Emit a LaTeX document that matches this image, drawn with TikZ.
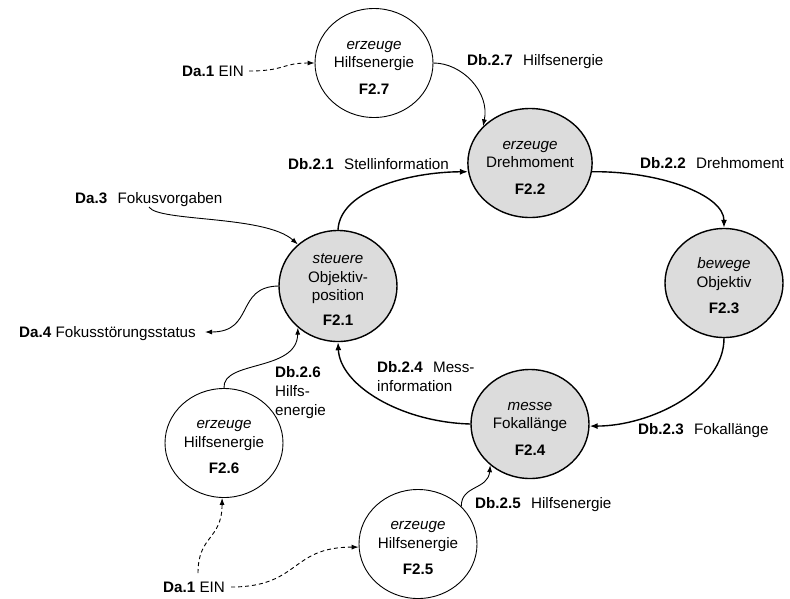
\documentclass[tikz,border=0pt]{standalone}
\usepackage{fontspec}
\setmainfont{Liberation Sans}
\usetikzlibrary{shapes.geometric,arrows.meta}
\definecolor{procfill}{RGB}{220,220,220}
% fixed-height first line so every process text sits alike in its ellipse
\newcommand{\topline}{\rule{0pt}{17pt}}
\begin{document}
\begin{tikzpicture}[x=1pt,y=-1pt,
  every node/.style={font=\fontsize{15.2}{18.5}\selectfont, inner sep=0pt},
  proc/.style={ellipse, draw, minimum width=118pt, minimum height=109pt,
    align=center, inner sep=0pt},
  mainproc/.style={proc, fill=procfill, line width=1.4pt},
  auxproc/.style={proc, fill=white, line width=0.9pt},
  lbl/.style={anchor=base west},
  tip/.style={-{Latex[length=7pt,width=5pt]}},
  flow/.style={tip, line width=0.9pt},
  mainflow/.style={-{Latex[length=8pt,width=6pt]}, line width=1.4pt},
  dashflow/.style={tip, line width=0.9pt, dash pattern=on 4pt off 3pt}]
\useasboundingbox (0,0) rectangle (790,598);

% processes
\node[auxproc]  (F27) at (374,63)  {\topline\itshape erzeuge\\Hilfsenergie\\[8pt]\textbf{F2.7}};
\node[mainproc] (F22) at (530,163) {\topline\itshape erzeuge\\Drehmoment\\[8pt]\textbf{F2.2}};
\node[mainproc] (F23) at (724,283) {\topline\itshape bewege\\Objektiv\\[8pt]\textbf{F2.3}};
\node[mainproc] (F21) at (338,286) {\topline\itshape steuere\\Objektiv-\\position\\[6pt]\textbf{F2.1}};
\node[mainproc] (F24) at (530,424) {\topline\itshape messe\\Fokallänge\\[8pt]\textbf{F2.4}};
\node[auxproc]  (F26) at (224,443) {\topline\itshape erzeuge\\Hilfsenergie\\[8pt]\textbf{F2.6}};
\node[auxproc]  (F25) at (418,544) {\topline\itshape erzeuge\\Hilfsenergie\\[8pt]\textbf{F2.5}};

% flow labels
\node[lbl] (Da1a) at (182,76)  {\textbf{Da.1} EIN};
\node[lbl] (Db27) at (467,65)  {\textbf{Db.2.7}\hspace{0.4em} Hilfsenergie};
\node[lbl] (Db21) at (288,169) {\textbf{Db.2.1}\hspace{0.4em} Stellinformation};
\node[lbl] (Db22) at (640,168) {\textbf{Db.2.2}\hspace{0.4em} Drehmoment};
\node[lbl] (Db23) at (638,434) {\textbf{Db.2.3}\hspace{0.4em} Fokallänge};
\node[anchor=north west, align=left, font=\fontsize{15.2}{19}\selectfont] (Db24) at (377,361)
  {\textbf{Db.2.4}\hspace{0.4em} Mess-\\information};
\node[anchor=north west, align=left, font=\fontsize{15.2}{19}\selectfont] (Db26) at (275,366)
  {\textbf{Db.2.6}\\Hilfs-\\energie};
\node[lbl] (Db25) at (475,508) {\textbf{Db.2.5}\hspace{0.4em} Hilfsenergie};
\node[lbl] (Da3)  at (75,203)  {\textbf{Da.3}\hspace{0.4em} Fokusvorgaben};
\node[anchor=base east] (Da4) at (196,337) {\textbf{Da.4} Fokusstörungsstatus};
\node[lbl] (Da1b) at (163,592) {\textbf{Da.1} EIN};

% free ends of the input flows
\coordinate (Da3out) at (149,207);
\coordinate (Da1up)  at (198,573);

% main loop
\draw[mainflow] (F21.north) .. controls (340,190) and (410,172) .. (F22.188);
\draw[mainflow] (F22.352) .. controls (660,171) and (724,195) .. (F23.north);
\draw[mainflow] (F23.south) .. controls (724,390) and (650,426) .. (F24.358);
\draw[mainflow] (F24.west) .. controls (400,422) and (340,385) .. (F21.south);

% auxiliary energy and external flows
\draw[flow] (F27.east) .. controls (462,63) and (490,92) .. (F22.142);
\draw[flow] (Da3out) .. controls (158,222) and (265,215) .. (F21.134);
\draw[flow] (F21.west) .. controls (235,287) and (255,332) .. ([xshift=9pt]Da4.east |- 0,332);
\draw[flow] (F26.north) .. controls (222,360) and (297,372) .. (F21.226);
\draw[flow] (F25.41) .. controls (461,485) and (488,490) .. (F24.226);

% switch-on signals
\draw[dashflow] ([xshift=5pt]Da1a.east |- 0,71) .. controls (285,71) and (282,63) .. (F27.west);
\draw[dashflow] ([xshift=6pt]Da1b.east |- 0,587) .. controls (300,587) and (290,547) .. (F25.183);
\draw[dashflow] (Da1up) .. controls (198,535) and (222,540) .. (F26.268);
\end{tikzpicture}
\end{document}
